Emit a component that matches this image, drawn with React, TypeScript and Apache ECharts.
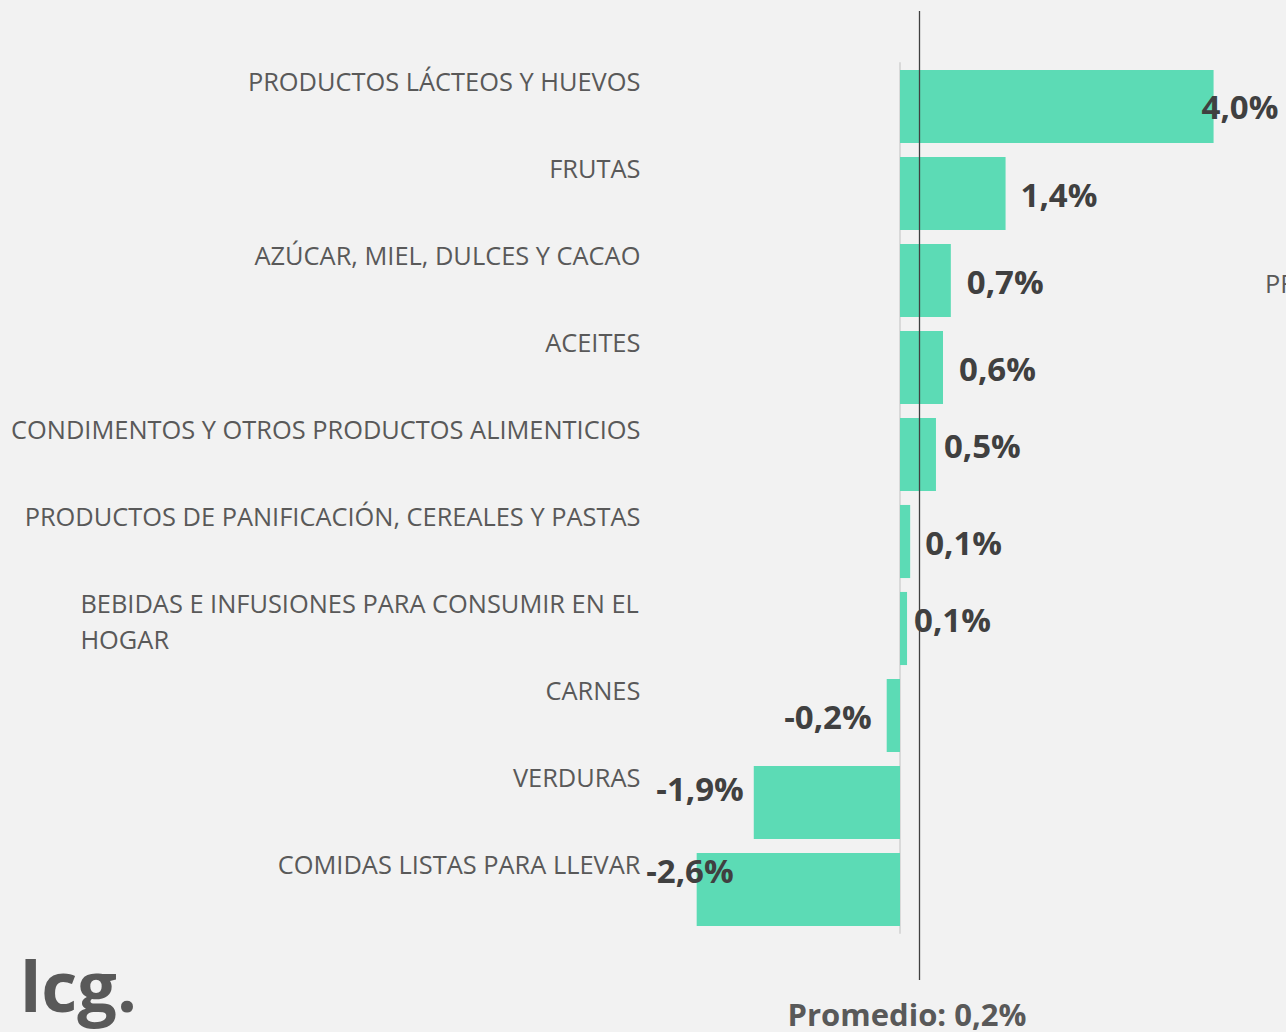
import React, { useEffect, useRef } from "react";
import * as echarts from "echarts";

const categories = [
  "PRODUCTOS LÁCTEOS Y HUEVOS",
  "FRUTAS",
  "AZÚCAR, MIEL, DULCES Y CACAO",
  "ACEITES",
  "CONDIMENTOS Y OTROS PRODUCTOS ALIMENTICIOS",
  "PRODUCTOS DE PANIFICACIÓN, CEREALES Y PASTAS",
  "BEBIDAS E INFUSIONES PARA CONSUMIR EN EL HOGAR",
  "CARNES",
  "VERDURAS",
  "COMIDAS LISTAS PARA LLEVAR",
];
const values = [4.01, 1.35, 0.65, 0.55, 0.46, 0.13, 0.09, -0.17, -1.87, -2.6];
const average = 0.24;

// label nudges (layout only)
const labelOffsets: number[][] = [
  [-25, -0.5],
  [2, 0.5],
  [3, 0.5],
  [3, 0.5],
  [-5, -9.5],
  [2, 0.5],
  [-6, -9.5],
  [-2, 0.5],
  [3, -14.5],
  [50, -19.5],
];

const fmt = (v: number) =>
  (Math.round(v * 10) / 10).toFixed(1).replace(".", ",") + "%";

const FONT = "'Open Sans', 'DejaVu Sans', sans-serif";
const XMIN = -3;
const XMAX = 4.5;
const GRID_LEFT = 665.4;
const GRID_WIDTH = 586.5;

export default function App() {
  const ref = useRef<HTMLDivElement>(null);
  useEffect(() => {
    document.body.style.margin = "0";
    document.body.style.background = "#f2f2f2";
    const chart = echarts.init(ref.current!, null, { renderer: "svg" });
    const hiddenX = (gridIndex: number) => ({
      type: "value",
      gridIndex,
      min: XMIN,
      max: XMAX,
      show: false,
      splitLine: { show: false },
    });
    chart.setOption({
      animation: false,
      backgroundColor: "#f2f2f2",
      grid: [
        { left: GRID_LEFT, width: GRID_WIDTH, top: 63, height: 870 },
        { left: GRID_LEFT, width: GRID_WIDTH, top: 19, height: 870 },
        { left: GRID_LEFT, width: GRID_WIDTH, top: 11, height: 969 },
      ],
      xAxis: [hiddenX(0), hiddenX(1), hiddenX(2)],
      yAxis: [
        {
          type: "category",
          gridIndex: 0,
          inverse: true,
          data: categories,
          axisLabel: { show: false },
          axisTick: { show: false },
          axisLine: { show: true, lineStyle: { color: "#d9d9d9", width: 2 } },
        },
        {
          type: "category",
          gridIndex: 1,
          inverse: true,
          data: categories,
          axisTick: { show: false },
          axisLine: { show: false, onZero: false },
          axisLabel: {
            margin: 25,
            align: "right",
            verticalAlign: "top",
            fontFamily: FONT,
            fontSize: 25.4,
            lineHeight: 36,
            color: "#595959",
            formatter: (v: string) => {
              if (v.length > 44) {
                const cut = v.lastIndexOf(" ");
                return `{w|${v.slice(0, cut)}}\n{w|${v.slice(cut + 1)}}`;
              }
              return v;
            },
            rich: {
              w: {
                width: 560,
                align: "left",
                fontFamily: FONT,
                fontSize: 25.4,
                lineHeight: 36,
                color: "#595959",
              },
            },
          },
        },
        {
          type: "value",
          gridIndex: 2,
          min: 0,
          max: 1,
          show: false,
          splitLine: { show: false },
        },
      ],
      series: [
        {
          type: "bar",
          xAxisIndex: 0,
          yAxisIndex: 0,
          barCategoryGap: "16%",
          itemStyle: { color: "#5cdbb5" },
          label: {
            show: true,
            distance: 13,
            fontFamily: FONT,
            fontWeight: "bold",
            fontSize: 33,
            color: "#404040",
            formatter: (p: any) => fmt(p.value),
          },
          data: values.map((v, i) => ({
            value: v,
            label: {
              position: v >= 0 ? "right" : "left",
              offset: labelOffsets[i],
            },
          })),
        },
        {
          type: "scatter",
          xAxisIndex: 2,
          yAxisIndex: 2,
          symbolSize: 0,
          data: [[average, 0]],
          silent: true,
          markLine: {
            silent: true,
            symbol: ["none", "none"],
            label: { show: false },
            lineStyle: { color: "#404040", width: 1.3, type: "solid" },
            data: [{ xAxis: average }],
          },
        },
      ],
      graphic: [
        {
          type: "text",
          left: 20,
          top: 950,
          style: {
            text: "lcg.",
            fontFamily: FONT,
            fontWeight: "bold",
            fontSize: 70,
            fill: "#595959",
          },
        },
        {
          type: "text",
          x: 907,
          y: 1014,
          style: {
            text: "Promedio: " + fmt(average),
            fontFamily: FONT,
            fontWeight: "bold",
            fontSize: 31,
            fill: "#595959",
            align: "center",
            verticalAlign: "middle",
          },
        },
        {
          type: "text",
          x: 1265,
          y: 283,
          style: {
            text: "PR",
            fontFamily: FONT,
            fontSize: 25.4,
            fill: "#595959",
            align: "left",
            verticalAlign: "middle",
          },
        },
      ],
    });
    return () => chart.dispose();
  }, []);
  return <div ref={ref} style={{ width: 1286, height: 1032 }} />;
}
